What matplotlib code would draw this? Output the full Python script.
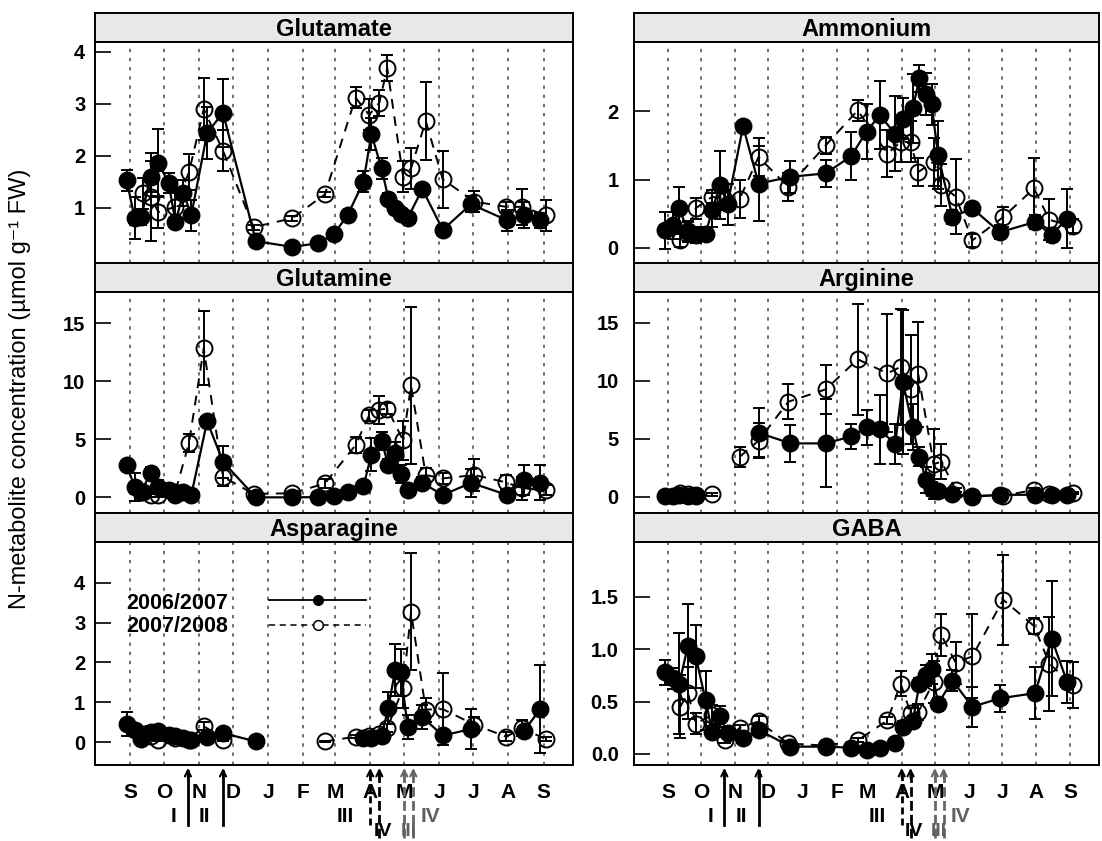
"""
Seasonal N-metabolite concentrations (2006/2007 vs 2007/2008), lattice-style 3x2 panel figure.
"""

import matplotlib

matplotlib.use("Agg")
import matplotlib.pyplot as plt  # noqa: E402
import numpy as np  # noqa: E402
from matplotlib import transforms  # noqa: E402
from matplotlib.lines import Line2D  # noqa: E402

nan = np.nan

# sampling dates, days after 1 September
days_06 = [-3, 4, 10, 18, 25, 34, 40, 47, 54, 68, 82, 111, 143, 166, 180, 192,
           206, 213, 222, 228, 234, 239, 245, 258, 276, 301, 333, 348, 362]
days_07 = [11, 18, 25, 40, 52, 65, 82, 109, 143, 172, 199, 211, 220, 227, 241,
           248, 261, 276, 304, 332, 346, 367]

month_days = [0, 30, 61, 91, 122, 153, 181, 212, 242, 273, 303, 334, 365]
month_labels = ["S", "O", "N", "D", "J", "F", "M", "A", "M", "J", "J", "A", "S"]

# Glutamate
glu_06 = [1.53, 0.80, 0.83, 1.60, 1.86, 1.48, 0.73, 1.29, 0.86, 2.44, 2.83, 0.36, 0.25, 0.32, 0.50,
          0.86, 1.50, 2.42, 1.76, 1.18, 0.99, 0.89, 0.80, 1.36, 0.58, 1.07, 0.76, 0.86, 0.76]
glu_06_se = [0.2, 0.4, 0.15, 0.3, 0.65, 0.2, 0.1, 0.25, 0.3, 0.5, 0.65, 0.05, 0.03, 0.03, 0.05,
             0.05, 0.2, 0.3, 0.2, 0.1, 0.1, 0.1, 0.1, 0.1, 0.1, 0.15, 0.2, 0.25, 0.15]
glu_07 = [1.28, 1.21, 0.92, 1.02, 1.69, 2.90, 2.10, 0.63, 0.80, 1.26, 3.12, 2.79, 3.02, 3.69, 1.60,
          1.76, 2.67, 1.55, 1.12, 1.02, 1.02, 0.86]
glu_07_se = [0.3, 0.85, 0.3, 0.3, 0.35, 0.6, 0.4, 0.05, 0.05, 0.05, 0.2, 0.3, 0.25, 0.25, 0.3,
             0.4, 0.75, 0.55, 0.2, 0.1, 0.35, 0.3]

# Ammonium
amm_06 = [0.26, 0.33, 0.59, 0.23, 0.19, 0.21, 0.55, 0.92, 0.64, 1.78, 0.94, 1.04, 1.09, 1.34, 1.70,
          1.94, 1.67, 1.89, 2.04, 2.48, 2.25, 2.10, 1.36, 0.45, 0.58, 0.23, 0.38, 0.19, 0.43]
amm_06_se = [0.27, 0.2, 0.3, 0.15, 0.12, 0.1, 0.25, 0.5, 0.3, 0.05, 0.55, 0.23, 0.2, 0.35, 0.4,
             0.5, 0.55, 0.3, 0.5, 0.2, 0.3, 0.3, 0.5, 0.1, 0.05, 0.1, 0.1, 0.1, 0.43]
amm_07 = [0.11, 0.25, 0.58, 0.75, 0.70, 0.72, 1.33, 0.89, 1.50, 2.01, 1.38, 1.55, 1.55, 1.11, 1.26,
          0.92, 0.75, 0.11, 0.45, 0.87, 0.41, 0.32]
amm_07_se = [0.1, 0.15, 0.15, 0.1, 0.15, 0.28, 0.28, 0.2, 0.12, 0.15, 0.35, 0.3, 0.3, 0.2, 0.35,
             0.3, 0.55, 0.1, 0.15, 0.45, 0.3, 0.1]

# Glutamine
gln_06 = [2.77, 0.91, 0.48, 2.11, 0.91, 0.63, 0.20, 0.48, 0.20, 6.55, 3.06, 0.0, 0.0, 0.02, 0.10,
          0.50, 0.95, 3.69, 4.84, 2.77, 3.78, 2.0, 0.63, 1.25, 0.20, 1.25, 0.20, 1.49, 1.25]
gln_06_se = [0.3, 1.2, 0.4, 0.5, 0.6, 0.3, 0.2, 0.3, 0.2, 0.3, 1.4, 0.05, 0.05, 0.05, 0.1,
             0.2, 0.3, 1.4, 0.8, 0.5, 1.0, 0.8, 0.3, 0.5, 0.2, 1.2, 0.3, 1.3, 1.5]
gln_07 = [0.5, 0.2, 0.2, 0.5, 4.69, 12.85, 1.77, 0.30, 0.35, 1.20, 4.49, 7.07, 7.56, 7.65, 4.92,
          9.65, 1.92, 1.63, 1.92, 1.29, 0.77, 0.63]
gln_07_se = [0.3, 0.2, 0.2, 0.3, 0.8, 3.2, 0.8, 0.1, 0.1, 0.4, 0.7, 0.5, 1.2, 0.5, 1.7,
             6.8, 0.6, 0.5, 1.4, 0.6, 1.0, 0.4]

# Arginine
arg_06 = [0.05, 0.10, 0.15, 0.10, 0.10, nan, nan, nan, nan, nan, 5.52, 4.60, 4.60, 5.20, 5.98,
          5.80, 4.54, 9.90, 6.00, 3.45, 1.44, 0.64, 0.50, 0.26, 0.0, 0.17, 0.17, 0.17, 0.17]
arg_06_se = [0.1, 0.1, 0.1, 0.1, 0.1, 0, 0, 0, 0, 0, 2.1, 1.6, 3.8, 1.1, 1.5,
             3.0, 1.7, 6.2, 2.0, 0.8, 1.1, 0.6, 0.4, 0.2, 0.1, 0.1, 0.2, 0.1, 0.1]
arg_07 = [0.30, 0.20, 0.15, 0.20, nan, 3.45, 4.83, 8.19, 9.26, 11.85, 10.64, 11.20, 9.28, 10.55, 2.82,
          3.02, 0.58, 0.10, 0.10, 0.58, 0.20, 0.30]
arg_07_se = [0.1, 0.1, 0.1, 0.1, 0, 0.85, 1.5, 1.5, 2.1, 4.8, 5.1, 5.0, 4.7, 4.5, 3.0,
             1.5, 0.2, 0.1, 0.1, 0.2, 0.1, 0.1]

# Asparagine
asn_06 = [0.46, 0.30, 0.08, 0.25, 0.27, 0.18, 0.15, 0.10, 0.06, 0.14, 0.23, 0.02, nan, nan, nan,
          nan, 0.10, 0.10, 0.15, 0.87, 1.81, 1.75, 0.39, 0.63, 0.17, 0.33, nan, 0.29, 0.83]
asn_06_se = [0.3, 0.15, 0.1, 0.15, 0.1, 0.05, 0.05, 0.05, 0.05, 0.05, 0.05, 0.02, 0, 0, 0,
             0, 0.03, 0.03, 0.05, 0.4, 0.65, 0.6, 0.3, 0.3, 0.1, 0.5, 0, 0.1, 1.1]
asn_07 = [0.20, 0.15, 0.06, 0.10, 0.05, 0.41, 0.06, nan, nan, 0.02, 0.14, 0.15, 0.20, 0.35, 1.36,
          3.27, 0.82, 0.83, 0.44, 0.14, 0.35, 0.08]
asn_07_se = [0.05, 0.05, 0.03, 0.03, 0.02, 0.1, 0.03, 0, 0, 0.02, 0.03, 0.03, 0.05, 0.1, 0.5,
             1.47, 0.3, 0.9, 0.2, 0.12, 0.2, 0.05]

# GABA
gaba_06 = [0.78, 0.72, 0.67, 1.03, 0.93, 0.51, 0.21, 0.36, 0.20, 0.15, 0.23, 0.07, 0.07, 0.06, 0.04,
           0.06, 0.10, 0.26, 0.31, 0.67, 0.75, 0.81, 0.48, 0.70, 0.45, 0.53, 0.58, 1.10, 0.69]
gaba_06_se = [0.12, 0.1, 0.48, 0.4, 0.3, 0.28, 0.05, 0.1, 0.05, 0.05, 0.03, 0.02, 0.02, 0.02, 0.02,
              0.02, 0.02, 0.05, 0.05, 0.05, 0.1, 0.14, 0.05, 0.1, 0.19, 0.13, 0.25, 0.55, 0.2]
gaba_07 = [0.45, 0.58, 0.29, 0.37, 0.13, 0.25, 0.31, 0.10, 0.08, 0.13, 0.32, 0.67, 0.39, 0.40, 0.69,
           1.13, 0.87, 0.93, 1.47, 1.22, 0.86, 0.66]
gaba_07_se = [0.3, 0.25, 0.1, 0.1, 0.03, 0.03, 0.05, 0.02, 0.02, 0.02, 0.03, 0.12, 0.05, 0.08, 0.2,
              0.2, 0.2, 0.4, 0.43, 0.08, 0.45, 0.22]

# arrows under the x axis (days), roman numeral annotations
solid_arrows = [51, 82]
black_dash_arrows = [212, 220]
grey_dash_arrows = [242, 250]
roman_row1 = [("I", 38, "black"), ("II", 66, "black"), ("III", 190, "black"), ("IV", 265, "#606060")]
roman_row2 = [("IV", 223, "black"), ("III", 246, "#606060")]

W, H = 1102, 841
plt.rcParams["font.family"] = ["Liberation Sans", "DejaVu Sans"]
plt.rcParams["font.weight"] = "bold"

fig = plt.figure(figsize=(W / 100, H / 100), dpi=100)


def px_axes(x0, x1, y0, y1):
    return fig.add_axes([x0 / W, 1 - y1 / H, (x1 - x0) / W, (y1 - y0) / H])


cols = [(95, 573), (634, 1099)]
rows = [(13, 42, 263), (263, 292, 513), (513, 542, 765)]

panels = [
    # (row, col, title, d06, se06, d07, se07, ylim, yticks, yticklabels)
    (0, 0, "Glutamate", glu_06, glu_06_se, glu_07, glu_07_se, (-0.06, 4.19), [1, 2, 3, 4], None),
    (0, 1, "Ammonium", amm_06, amm_06_se, amm_07, amm_07_se, (-0.22, 3.01), [0, 1, 2], None),
    (1, 0, "Glutamine", gln_06, gln_06_se, gln_07, gln_07_se, (-1.35, 17.7), [0, 5, 10, 15], None),
    (1, 1, "Arginine", arg_06, arg_06_se, arg_07, arg_07_se, (-1.4, 17.65), [0, 5, 10, 15], None),
    (2, 0, "Asparagine", asn_06, asn_06_se, asn_07, asn_07_se, (-0.57, 5.02), [0, 1, 2, 3, 4], None),
    (2, 1, "GABA", gaba_06, gaba_06_se, gaba_07, gaba_07_se, (-0.105, 2.02), [0, 0.5, 1.0, 1.5],
     ["0.0", "0.5", "1.0", "1.5"]),
]

DASH = (0, (5, 4))
bottom_axes = []

for row, col, title, v06, s06, v07, s07, ylim, yt, ytl in panels:
    x0, x1 = cols[col]
    s_top, p_top, p_bot = rows[row]

    strip = px_axes(x0, x1, s_top, p_top)
    strip.set_facecolor("#e8e8e8")
    strip.set_xticks([])
    strip.set_yticks([])
    for sp in strip.spines.values():
        sp.set_linewidth(1.4)
    strip.text(0.5, 0.44, title, ha="center", va="center", fontsize=17, fontweight="bold",
               transform=strip.transAxes)

    ax = px_axes(x0, x1, p_top, p_bot)
    for sp in ax.spines.values():
        sp.set_linewidth(1.4)
    ax.set_xlim(-31, 391)
    ax.set_ylim(*ylim)
    ax.set_yticks(yt)
    if ytl:
        ax.set_yticklabels(ytl)
    ax.tick_params(axis="y", direction="in", length=11.5, width=1.2, labelsize=14.5,
                   pad=7 if col == 0 else 11)
    ax.set_xticks(month_days)
    ax.xaxis.grid(True, linestyle=(0, (2, 3.5)), color="#555555", linewidth=1.2)
    ax.set_axisbelow(True)
    if row == 2:
        ax.set_xticklabels(month_labels)
        ax.tick_params(axis="x", length=0, labelsize=15, pad=13)
        bottom_axes.append(ax)
    else:
        ax.tick_params(axis="x", length=0, labelbottom=False)

    for days, vals, se, filled in [(days_06, v06, s06, True), (days_07, v07, s07, False)]:
        vals = np.array(vals, dtype=float)
        ax.errorbar(days, vals, yerr=se, fmt="none", ecolor="black", elinewidth=1.4,
                    capsize=4.5, capthick=1.4, zorder=2)
        ax.plot(days, vals, linestyle="-" if filled else DASH, linewidth=1.6 if filled else 1.4,
                color="black", marker="o", markersize=11.5,
                markerfacecolor="black" if filled else "none",
                markeredgecolor="black", markeredgewidth=1.4, zorder=3)

    if title == "Asparagine":
        ax.text(0.066, 0.726, "2006/2007", transform=ax.transAxes, fontsize=15.5,
                fontweight="bold", va="center")
        ax.text(0.066, 0.619, "2007/2008", transform=ax.transAxes, fontsize=15.5,
                fontweight="bold", va="center")
        ax.add_line(Line2D([0.364, 0.566], [0.740, 0.740], transform=ax.transAxes,
                           color="black", lw=1.3))
        ax.add_line(Line2D([0.467], [0.740], transform=ax.transAxes, marker="o",
                           markersize=7, color="black"))
        ax.add_line(Line2D([0.364, 0.566], [0.629, 0.629], transform=ax.transAxes,
                           color="black", lw=1.1, linestyle=(0, (4, 3))))
        ax.add_line(Line2D([0.467], [0.629], transform=ax.transAxes, marker="o",
                           markersize=7, color="black", markerfacecolor="white",
                           markeredgewidth=1.1))

# y axis title
fig.text(20 / W, 1 - 389 / H, "N-metabolite concentration (\u00b5mol g\u207b\u00b9 FW)",
         rotation=90, ha="center", va="center", fontsize=17, fontweight="normal")

# arrows and roman numerals under the bottom panels
tip_y = 1 - 768 / H
for ax in bottom_axes:
    tr = transforms.blended_transform_factory(ax.transData, fig.transFigure)
    specs = ([(d, "-", "black", 825) for d in solid_arrows]
             + [(black_dash_arrows[0], (0, (2.5, 1.5)), "black", 825),
                (black_dash_arrows[1], (0, (3.5, 1.5)), "black", 838)]
             + [(d, (0, (3.5, 1.5)), "#666666", 838) for d in grey_dash_arrows])
    for d, ls, colr, tail in specs:
        ax.add_line(Line2D([d, d], [1 - tail / H, tip_y - 0.004], transform=tr, color=colr,
                           lw=2, linestyle=ls, clip_on=False))
        ax.annotate("", xy=(d, tip_y), xytext=(d, tip_y - 0.012), xycoords=tr, textcoords=tr,
                    annotation_clip=False,
                    arrowprops=dict(arrowstyle="->", color=colr, lw=1.5, shrinkA=0, shrinkB=0,
                                    mutation_scale=11))
    for txt, d, colr in roman_row1:
        ax.text(d, 1 - 816 / H, txt, transform=tr, ha="center", va="center", fontsize=15,
                fontweight="bold", color=colr)
    for txt, d, colr in roman_row2:
        ax.text(d, 1 - 832 / H, txt, transform=tr, ha="center", va="center", fontsize=14,
                fontweight="bold", color=colr)

fig.savefig("out.png", dpi=100)
plt.close(fig)
